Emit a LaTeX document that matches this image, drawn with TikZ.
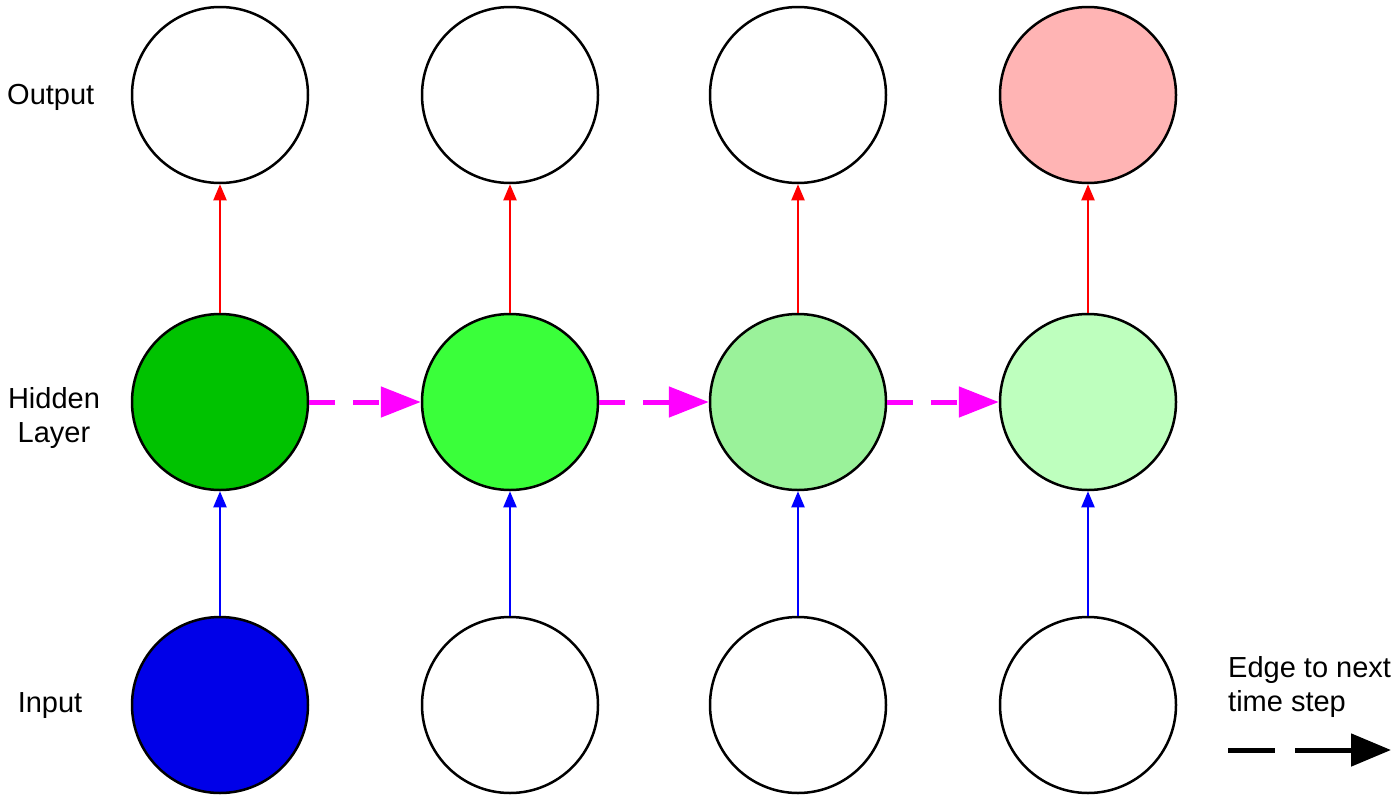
\documentclass[tikz,border=0pt]{standalone}
\usepackage{fontspec}
\setmainfont{Liberation Sans}
\usetikzlibrary{arrows.meta}
\definecolor{hone}{RGB}{0,194,0}
\definecolor{htwo}{RGB}{58,255,58}
\definecolor{hthree}{RGB}{154,242,154}
\definecolor{hfour}{RGB}{190,255,190}
\definecolor{outpink}{RGB}{255,180,180}
\definecolor{inblue}{RGB}{0,0,232}
\definecolor{magentaedge}{RGB}{255,0,255}
\begin{document}
\begin{tikzpicture}[x=1pt,y=-1pt,
  unit/.style={circle,draw=black,line width=2.5pt,minimum size=176pt,inner sep=0pt,fill=white},
  lbl/.style={font=\fontsize{29pt}{34pt}\selectfont,inner sep=0pt,align=center},
  upred/.style={draw=red,line width=2pt,-{Triangle[length=16pt,width=13pt]}},
  upblue/.style={draw=blue,line width=2pt,-{Triangle[length=16pt,width=13pt]}},
  timeedge/.style={draw=magentaedge,line width=5pt,dash pattern=on 26pt off 18pt,-{Triangle[length=40pt,width=30pt]}},
  legendedge/.style={draw=black,line width=5pt,dash pattern=on 47pt off 20pt on 60pt off 20pt,-{Triangle[length=40pt,width=32pt]}}]
\useasboundingbox (0,0) rectangle (1400,798);
% output row
\node[unit] (o1) at (220,95) {};
\node[unit] (o2) at (510,95) {};
\node[unit] (o3) at (798,95) {};
\node[unit,fill=outpink] (o4) at (1088,95) {};
% hidden row
\node[unit,fill=hone] (h1) at (220,402) {};
\node[unit,fill=htwo] (h2) at (510,402) {};
\node[unit,fill=hthree] (h3) at (798,402) {};
\node[unit,fill=hfour] (h4) at (1088,402) {};
% input row
\node[unit,fill=inblue] (i1) at (220,705) {};
\node[unit] (i2) at (510,705) {};
\node[unit] (i3) at (798,705) {};
\node[unit] (i4) at (1088,705) {};
% vertical edges
\foreach \k in {1,2,3,4}{
  \draw[upred] (h\k.north) -- (o\k.south);
  \draw[upblue] (i\k.north) -- (h\k.south);
}
% time edges
\draw[timeedge] (h1.east) -- (h2.west);
\draw[timeedge] (h2.east) -- (h3.west);
\draw[timeedge] (h3.east) -- (h4.west);
% labels
\node[lbl,anchor=west] (lout) at (7,97) {Output};
\node[lbl] (lhid) at (54,418) {Hidden\\Layer};
\node[lbl] (lin) at (50,706) {Input};
\node[lbl,anchor=west,align=left] (lleg) at (1228,687) {Edge to next\\time step};
\coordinate (la) at (1228,750);
\coordinate (lb) at (1391,750);
\draw[legendedge] (la) -- (lb);
\end{tikzpicture}
\end{document}
